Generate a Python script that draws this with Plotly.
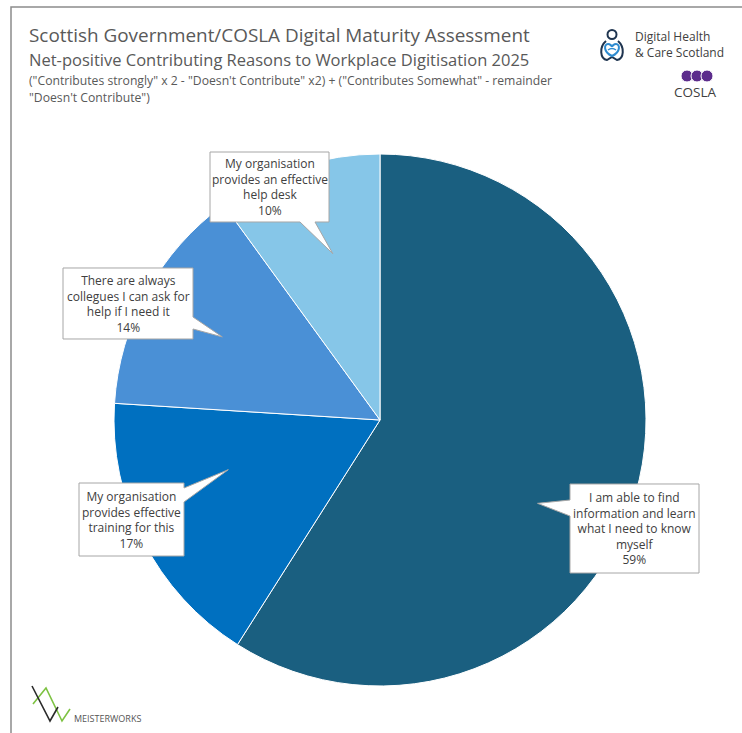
import math
import plotly.graph_objects as go

# Net-positive contributing reasons (share of total, %)
reasons = [
    "I am able to find<br>information and learn<br>what I need to know<br>myself",
    "My organisation<br>provides effective<br>training for this",
    "There are always<br>collegues I can ask for<br>help if I need it",
    "My organisation<br>provides an effective<br>help desk",
]
shares = [59, 17, 14, 10]
slice_colors = ["#1A5F80", "#0070C0", "#4A90D6", "#86C6E8"]

W, H = 742, 733
CX, CY, R = 380, 420, 266  # pie centre / radius in page pixels


def px(x):
    return x / W


def py(y):
    return 1 - y / H


fig = go.Figure(
    go.Pie(
        labels=[r.replace("<br>", " ") for r in reasons],
        values=shares,
        sort=False,
        direction="clockwise",
        rotation=0,
        marker=dict(colors=slice_colors, line=dict(color="white", width=1)),
        textinfo="none",
        hoverinfo="label+percent",
        showlegend=False,
        domain=dict(x=[px(CX - R), px(CX + R)], y=[py(CY + R), py(CY - R)]),
    )
)

# Callout boxes: (x0, y0, x1, y1), pointer edge, pointer base span along that edge,
# pointer tip as (fraction across the slice's angle, fraction of the radius)
boxes = [
    ((570, 484, 699, 573), "left", (500, 516), (0.555, 0.67)),
    ((79, 483, 184, 556), "right", (488, 502), (0.645, 0.60)),
    ((63, 268, 193, 339), "right", (317, 329), (0.48, 0.67)),
    ((210, 152, 329, 222), "bottom", (300, 315), (0.56, 0.65)),
]

shapes = []
annotations = []
cum = 0.0
total = sum(shares)
for reason, val, (box, edge, span, (af, rf)) in zip(reasons, shares, boxes):
    ang = (cum + val * af) / total * 2 * math.pi
    cum += val
    tx = CX + rf * R * math.sin(ang)
    ty = CY - rf * R * math.cos(ang)
    x0, y0, x1, y1 = box
    a, b = span
    if edge == "left":
        pts = [(x0, y0), (x1, y0), (x1, y1), (x0, y1), (x0, b), (tx, ty), (x0, a)]
    elif edge == "right":
        pts = [(x0, y0), (x1, y0), (x1, a), (tx, ty), (x1, b), (x1, y1), (x0, y1)]
    else:  # bottom
        pts = [(x0, y0), (x1, y0), (x1, y1), (b, y1), (tx, ty), (a, y1), (x0, y1)]
    path = "M " + " L ".join(f"{px(x):.5f},{py(y):.5f}" for x, y in pts) + " Z"
    shapes.append(dict(type="path", xref="paper", yref="paper", path=path,
                       fillcolor="white", line=dict(color="#A6A6A6", width=1)))
    annotations.append(dict(
        x=px((x0 + x1) / 2), y=py((y0 + y1) / 2), xref="paper", yref="paper",
        xanchor="center", yanchor="middle",
        text=f"{reason}<br>{val}%", showarrow=False, align="center",
        font=dict(family="Open Sans", size=12, color="#404040"),
    ))

# Outer frame
shapes.append(dict(type="rect", xref="paper", yref="paper",
                   x0=px(11), y0=py(760), x1=px(760), y1=py(7),
                   line=dict(color="#8C8C8C", width=1.5), fillcolor="rgba(0,0,0,0)"))

# Titles
title_lines = [
    ("Scottish Government/COSLA Digital Maturity Assessment", 18.9, 35),
    ("Net-positive Contributing Reasons to Workplace Digitisation 2025", 16.5, 60),
    ("(\"Contributes strongly\" x 2 - \"Doesn't Contribute\" x2) + (\"Contributes Somewhat\" - remainder", 12.2, 81),
    ("\"Doesn't Contribute\")", 12.2, 97),
]
for text, size, y in title_lines:
    annotations.append(dict(x=px(27), y=py(y), xref="paper", yref="paper",
                            xanchor="left", yanchor="middle", showarrow=False,
                            text=text, font=dict(family="Open Sans", size=size, color="#595959")))

# Digital Health & Care Scotland mark
shapes.append(dict(type="circle", xref="paper", yref="paper",
                   x0=px(607.5), y0=py(39), x1=px(616.5), y1=py(30),
                   line=dict(color="#1F3550", width=2)))
shapes.append(dict(type="path", xref="paper", yref="paper",
                   path=f"M {px(606)},{py(41)} C {px(599)},{py(47)} {px(600)},{py(59)} {px(607)},{py(60)} "
                        f"L {px(612)},{py(57)} L {px(617)},{py(60)} C {px(624)},{py(59)} {px(625)},{py(47)} {px(618)},{py(41)}",
                   line=dict(color="#1F3550", width=2)))
shapes.append(dict(type="path", xref="paper", yref="paper",
                   path=f"M {px(612)},{py(56)} C {px(603)},{py(52)} {px(604)},{py(44)} {px(608)},{py(44)} "
                        f"C {px(610)},{py(44)} {px(612)},{py(46)} {px(612)},{py(47)} "
                        f"C {px(612)},{py(46)} {px(614)},{py(44)} {px(616)},{py(44)} "
                        f"C {px(620)},{py(44)} {px(621)},{py(52)} {px(612)},{py(56)} Z",
                   line=dict(color="#2E8BD0", width=2)))
shapes.append(dict(type="path", xref="paper", yref="paper",
                   path=f"M {px(608)},{py(50)} Q {px(612)},{py(47)} {px(616)},{py(50)}",
                   line=dict(color="#2E8BD0", width=1.5)))
annotations.append(dict(x=px(633), y=py(45), xref="paper", yref="paper",
                        xanchor="left", yanchor="middle", showarrow=False, align="left",
                        text="Digital Health<br>& Care Scotland",
                        font=dict(family="Open Sans", size=12, color="#404040")))

# COSLA mark
for cx in (687, 697, 707):
    shapes.append(dict(type="circle", xref="paper", yref="paper",
                       x0=px(cx - 6), y0=py(82), x1=px(cx + 6), y1=py(70),
                       fillcolor="#5C2C8C", line=dict(color="white", width=1)))
annotations.append(dict(x=px(695), y=py(92), xref="paper", yref="paper",
                        xanchor="center", yanchor="middle", showarrow=False,
                        text="COSLA", font=dict(family="Open Sans", size=13.5, color="#404040")))

# MEISTERWORKS mark
shapes.append(dict(type="path", xref="paper", yref="paper",
                   path=f"M {px(33)},{py(704)} L {px(46)},{py(688)} L {px(62)},{py(721)} L {px(70)},{py(709)}",
                   line=dict(color="#7DC242", width=1.6)))
shapes.append(dict(type="path", xref="paper", yref="paper",
                   path=f"M {px(32)},{py(686)} L {px(50)},{py(721)} L {px(58)},{py(707)}",
                   line=dict(color="#2B2B2B", width=1.6)))
annotations.append(dict(x=px(72), y=py(718), xref="paper", yref="paper",
                        xanchor="left", yanchor="middle", showarrow=False,
                        text="MEISTERWORKS", font=dict(family="Open Sans", size=9, color="#555555")))

fig.update_layout(
    width=W, height=H,
    margin=dict(l=0, r=0, t=0, b=0),
    paper_bgcolor="white", plot_bgcolor="white",
    shapes=shapes, annotations=annotations,
)

fig.write_html("out.html")
